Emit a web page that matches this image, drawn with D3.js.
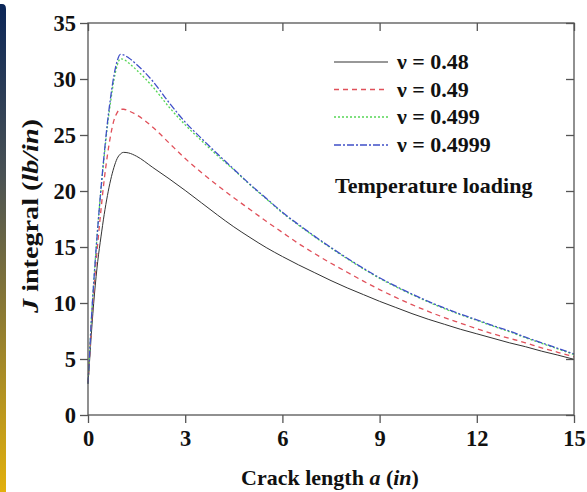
<!DOCTYPE html>
<html>
<head>
<meta charset="utf-8">
<script src="https://cdn.jsdelivr.net/npm/d3@7"></script>
<style>
  html, body { margin: 0; padding: 0; background: #fff; }
  svg { display: block; }
</style>
</head>
<body>
<svg id="chart" width="587" height="492"></svg>
<script>
// Crack length a (in)
const crackLength = [0, 0.05, 0.1, 0.2, 0.3, 0.4, 0.5, 0.6, 0.7, 0.8, 0.9, 1.0, 1.1, 1.25, 1.5,
  2, 2.5, 3, 3.5, 4, 4.5, 5, 5.5, 6, 6.5, 7, 7.5, 8, 8.5, 9, 9.5, 10, 10.5, 11, 11.5, 12,
  12.5, 13, 13.5, 14, 14.5, 15];

// J integral (lb/in) for each Poisson's ratio
const jNu048 = [2.8, 4.9, 7.1, 10.8, 13.7, 15.9, 17.9, 19.6, 21.0, 22.1, 22.9, 23.3, 23.45, 23.4, 23.1,
  22.1, 21.1, 20.05, 18.95, 17.85, 16.8, 15.85, 14.95, 14.15, 13.4, 12.7, 12.0, 11.35, 10.75, 10.15, 9.6, 9.05,
  8.55, 8.1, 7.65, 7.25, 6.85, 6.45, 6.1, 5.7, 5.35, 4.97];
const jNu049 = [2.8, 5.2, 7.8, 11.9, 15.3, 18.3, 21.0, 23.2, 25.0, 26.3, 27.0, 27.3, 27.3, 27.15, 26.8,
  25.7, 24.3, 22.9, 21.65, 20.5, 19.4, 18.35, 17.3, 16.3, 15.3, 14.4, 13.55, 12.75, 11.95, 11.2, 10.5, 9.85,
  9.25, 8.7, 8.2, 7.7, 7.25, 6.85, 6.45, 6.0, 5.6, 5.2];
const jNu0499 = [2.8, 5.5, 8.3, 12.8, 16.7, 20.1, 23.1, 25.8, 28.0, 29.9, 31.2, 31.8, 31.75, 31.45, 30.8,
  29.3, 27.5, 25.9, 24.5, 23.15, 21.9, 20.55, 19.3, 18.05, 16.95, 15.9, 14.9, 13.95, 13.05, 12.2, 11.45, 10.75,
  10.1, 9.5, 8.95, 8.45, 7.93, 7.45, 6.9, 6.4, 5.9, 5.4];
const jNu04999 = [2.8, 5.5, 8.3, 12.8, 16.7, 20.2, 23.3, 26.1, 28.4, 30.3, 31.6, 32.2, 32.15, 31.9, 31.3,
  29.8, 27.9, 26.15, 24.7, 23.3, 21.95, 20.6, 19.35, 18.1, 17.0, 15.95, 14.95, 14.0, 13.1, 12.25, 11.5, 10.8,
  10.15, 9.55, 9.0, 8.5, 7.98, 7.5, 6.95, 6.45, 5.95, 5.45];

const seriesLabels = ["\u03bd = 0.48", "\u03bd = 0.49", "\u03bd = 0.499", "\u03bd = 0.4999"];
const seriesColors = ["#333333", "#e0505a", "#55d655", "#3f4fc8"];
const seriesDashes = [null, "5,4", "2,2", "7,2,2,2"];
const xTicks = [0, 3, 6, 9, 12, 15];
const yTicks = [0, 5, 10, 15, 20, 25, 30, 35];
const noteText = "Temperature loading";

const series = [jNu048, jNu049, jNu0499, jNu04999].map((vals, i) => ({
  label: seriesLabels[i], color: seriesColors[i], dash: seriesDashes[i],
  points: crackLength.map((a, k) => [a, vals[k]])
}));

const svg = d3.select("#chart");
const plot = { left: 88, right: 574, top: 23, bottom: 415 };
const FONT = "Liberation Serif";
const INK = "#111";

// every text node gets the serif face set directly
function serifText(sel, size) {
  return sel.attr("font-family", FONT).attr("font-weight", "bold")
    .attr("font-size", size).attr("fill", INK);
}

// slide edge strip on the left
const grad = svg.append("defs").append("linearGradient")
  .attr("id", "edge").attr("x1", 0).attr("y1", 0).attr("x2", 0).attr("y2", 1);
grad.append("stop").attr("offset", "0%").attr("stop-color", "#0b2658");
grad.append("stop").attr("offset", "35%").attr("stop-color", "#4a5254");
grad.append("stop").attr("offset", "65%").attr("stop-color", "#8f7c32");
grad.append("stop").attr("offset", "100%").attr("stop-color", "#e2b00c");
svg.append("path")
  .attr("d", "M0,4 L2,4 Q6,4 6,9 L6,492 L0,492 Z")
  .attr("fill", "url(#edge)");

const x = d3.scaleLinear().domain([0, 15]).range([plot.left, plot.right]);
const y = d3.scaleLinear().domain([0, 35]).range([plot.bottom, plot.top]);

const axisColor = "#555";
const minorX = d3.range(0, 15.01, 1.5);
const minorY = d3.range(0, 35.01, 2.5);

function styleAxis(g) {
  g.attr("font-family", FONT);
  g.select(".domain").remove();
  g.selectAll(".tick line").attr("stroke", axisColor).attr("stroke-width", 1.3);
}

// bottom axis
const gBottom = svg.append("g").attr("transform", `translate(0,${plot.bottom})`);
gBottom.call(d3.axisBottom(x).tickValues(minorX).tickSize(5).tickFormat("")).call(styleAxis);
gBottom.call(d3.axisBottom(x).tickValues(xTicks).tickSize(8).tickPadding(7).tickFormat(d3.format("d")))
  .call(styleAxis);
serifText(gBottom.selectAll("text"), 22.5);

// top axis (ticks pointing into the frame)
const gTop = svg.append("g").attr("transform", `translate(0,${plot.top})`);
gTop.call(d3.axisBottom(x).tickValues(minorX).tickSize(5).tickFormat("")).call(styleAxis);
gTop.call(d3.axisBottom(x).tickValues(xTicks).tickSize(8).tickFormat("")).call(styleAxis);

// left axis
const gLeft = svg.append("g").attr("transform", `translate(${plot.left},0)`);
gLeft.call(d3.axisLeft(y).tickValues(minorY).tickSize(5).tickFormat("")).call(styleAxis);
gLeft.call(d3.axisLeft(y).tickValues(yTicks).tickSize(8).tickPadding(4).tickFormat(d3.format("d")))
  .call(styleAxis);
serifText(gLeft.selectAll("text"), 22.5);

// right axis (ticks pointing into the frame)
const gRight = svg.append("g").attr("transform", `translate(${plot.right},0)`);
gRight.call(d3.axisLeft(y).tickValues(minorY).tickSize(5).tickFormat("")).call(styleAxis);
gRight.call(d3.axisLeft(y).tickValues(yTicks).tickSize(8).tickFormat("")).call(styleAxis);

// curves
const line = d3.line().x(d => x(d[0])).y(d => y(d[1])).curve(d3.curveMonotoneX);
svg.append("g").selectAll("path").data(series).join("path")
  .attr("d", d => line(d.points))
  .attr("fill", "none")
  .attr("stroke", d => d.color)
  .attr("stroke-width", d => d.dash ? 1.3 : 1.0)
  .attr("stroke-dasharray", d => d.dash);

// frame
svg.append("rect")
  .attr("x", plot.left).attr("y", plot.top)
  .attr("width", plot.right - plot.left).attr("height", plot.bottom - plot.top)
  .attr("fill", "none").attr("stroke", axisColor).attr("stroke-width", 1.3);

// legend
const legend = svg.append("g");
const legY = [62, 89.5, 117, 145];
series.forEach((s, i) => {
  legend.append("line")
    .attr("x1", 334).attr("x2", 388).attr("y1", legY[i]).attr("y2", legY[i])
    .attr("stroke", s.color).attr("stroke-width", s.dash ? 1.3 : 1.2)
    .attr("stroke-dasharray", s.dash);
  serifText(legend.append("text"), 22)
    .attr("x", 397).attr("y", legY[i] + 7)
    .text(s.label);
});
serifText(legend.append("text"), 22)
  .attr("x", 335).attr("y", 193)
  .text(noteText);

// axis titles
const xTitle = serifText(svg.append("text"), 22)
  .attr("x", 330).attr("y", 485)
  .attr("text-anchor", "middle");
xTitle.append("tspan").text("Crack length ");
xTitle.append("tspan").attr("font-style", "italic").text("a");
xTitle.append("tspan").text(" (");
xTitle.append("tspan").attr("font-style", "italic").text("in");
xTitle.append("tspan").text(")");

const yTitle = serifText(svg.append("text"), 23)
  .attr("transform", `translate(38,216) rotate(-90)`)
  .attr("x", -97)
  .attr("textLength", 194)
  .attr("lengthAdjust", "spacingAndGlyphs");
yTitle.append("tspan").attr("font-style", "italic").text("J");
yTitle.append("tspan").text(" integral (");
yTitle.append("tspan").attr("font-style", "italic").text("lb/in");
yTitle.append("tspan").text(")");
</script>
</body>
</html>
